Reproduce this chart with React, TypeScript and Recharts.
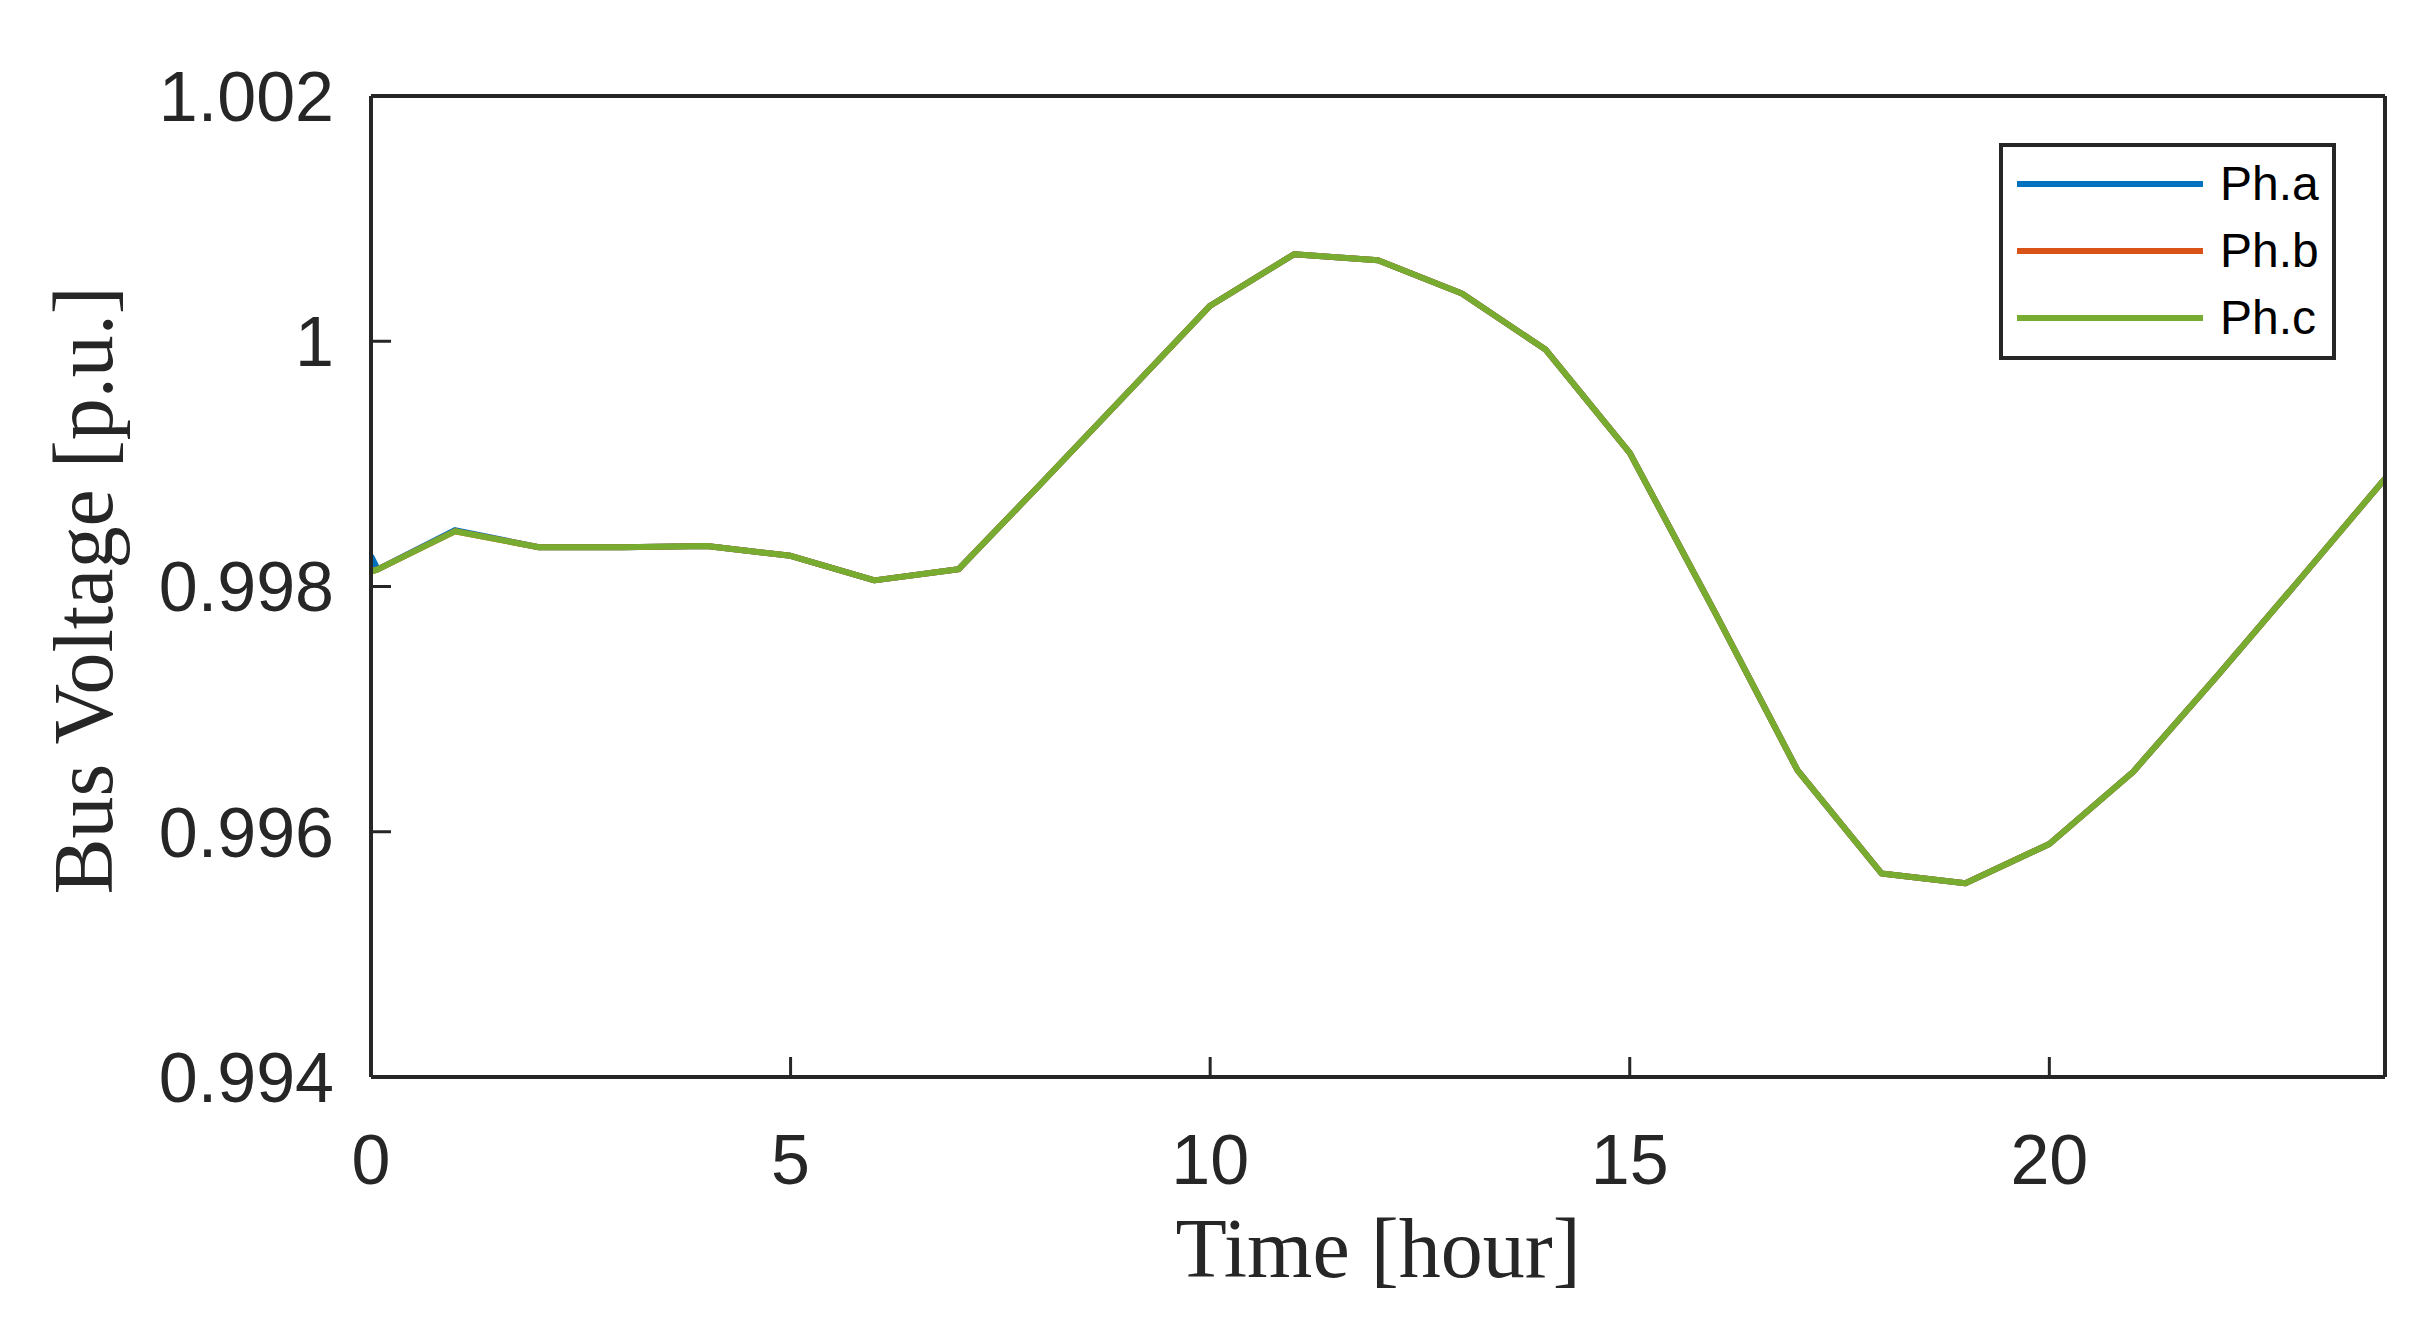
import { LineChart, Line, XAxis, YAxis, Legend } from 'recharts'

// time in hours (the extra 0.08 sample is where Ph.a rejoins the others)
const hours = [0, 0.08, 1, 2, 3, 4, 5, 6, 7, 8, 9, 10, 11, 12, 13, 14, 15, 16, 17, 18, 19, 20, 21, 22, 23, 24]

const phaseC = [
  0.99812, 0.99814, 0.99845, 0.99832, 0.99832, 0.99833, 0.99825, 0.99805, 0.99814, 0.99885, 0.99957, 1.00029, 1.00071,
  1.00066, 1.00039, 0.99993, 0.99909, 0.99781, 0.9965, 0.99566, 0.99558, 0.9959, 0.99649, 0.99727, 0.99807, 0.99888,
]
const phaseB = [...phaseC]
const phaseA = [
  0.99825, 0.99814, 0.99846, 0.99832, 0.99832, 0.99833, 0.99825, 0.99805, 0.99814, 0.99885, 0.99957, 1.00029, 1.00071,
  1.00066, 1.00039, 0.99993, 0.99909, 0.99781, 0.9965, 0.99566, 0.99558, 0.9959, 0.99649, 0.99727, 0.99807, 0.99888,
]

const xTicks = [0, 5, 10, 15, 20]
const yTicks = [0.994, 0.996, 0.998, 1, 1.002]

const data = hours.map((t, i) => ({ t, a: phaseA[i], b: phaseB[i], c: phaseC[i] }))

const axisColor = '#262626'
const sans = '"Liberation Sans", Arial, Helvetica, sans-serif'
const serif = '"Liberation Serif", "Times New Roman", serif'

function PhaseLegend({ payload }: any) {
  return (
    <div style={{ width: 337, height: 217, border: `4px solid ${axisColor}`, background: '#fff', boxSizing: 'border-box', position: 'relative' }}>
      {(payload || []).map((p: any, i: number) => (
        <div key={p.value} style={{ position: 'absolute', left: 14, top: 7 + i * 67, height: 60, display: 'flex', alignItems: 'center' }}>
          <div style={{ width: 186, height: 6, background: p.color }} />
          <span style={{ marginLeft: 17, fontFamily: sans, fontSize: 48, color: '#000', lineHeight: '60px' }}>{p.value}</span>
        </div>
      ))}
    </div>
  )
}

export default function App() {
  return (
    <div style={{ position: 'relative', width: 2436, height: 1344, background: '#fff' }}>
      <style>{'body{margin:0}'}</style>
      <LineChart width={2436} height={1344} data={data} margin={{ top: 0, right: 0, bottom: 0, left: 0 }}>
        <XAxis
          dataKey="t"
          type="number"
          domain={[0, 24]}
          ticks={xTicks}
          allowDataOverflow
          height={267}
          tickSize={-20}
          tickMargin={77}
          axisLine={{ stroke: axisColor, strokeWidth: 4 }}
          tickLine={{ stroke: axisColor, strokeWidth: 3 }}
          tick={{ fontSize: 70, fill: axisColor, fontFamily: sans }}
          label={(props: any) => {
            const vb = props.viewBox || { x: 371, y: 1077, width: 2014, height: 267 }
            return (
              <text x={vb.x + vb.width / 2} y={vb.y + 200} textAnchor="middle" fontFamily={serif} fontSize={84} fill={axisColor}>
                Time [hour]
              </text>
            )
          }}
        />
        <XAxis
          xAxisId="top"
          dataKey="t"
          orientation="top"
          type="number"
          domain={[0, 24]}
          ticks={xTicks}
          allowDataOverflow
          height={96}
          tickSize={-20}
          tick={false}
          axisLine={{ stroke: axisColor, strokeWidth: 4 }}
          tickLine={{ stroke: axisColor, strokeWidth: 3 }}
        />
        <YAxis
          type="number"
          domain={[0.994, 1.002]}
          ticks={yTicks}
          allowDataOverflow
          width={371}
          tickSize={-20}
          tickMargin={57}
          tickFormatter={(v: number) => String(Number(v.toFixed(3)))}
          axisLine={{ stroke: axisColor, strokeWidth: 4 }}
          tickLine={{ stroke: axisColor, strokeWidth: 3 }}
          tick={{ fontSize: 70, fill: axisColor, fontFamily: sans }}
          label={(props: any) => {
            const vb = props.viewBox || { x: 0, y: 96, width: 371, height: 981 }
            const cy = vb.y + vb.height / 2 + 4
            return (
              <text x={112} y={cy} transform={`rotate(-90, 112, ${cy})`} textAnchor="middle" fontFamily={serif} fontSize={84} fill={axisColor}>
                Bus Voltage [p.u.]
              </text>
            )
          }}
        />
        <YAxis
          yAxisId="right"
          orientation="right"
          type="number"
          domain={[0.994, 1.002]}
          ticks={yTicks}
          allowDataOverflow
          width={51}
          tickSize={-20}
          tick={false}
          axisLine={{ stroke: axisColor, strokeWidth: 4 }}
          tickLine={{ stroke: axisColor, strokeWidth: 3 }}
        />
        <Legend
          layout="vertical"
          align="center"
          verticalAlign="middle"
          content={<PhaseLegend />}
          wrapperStyle={{ top: 143, left: 1999, right: 'auto', bottom: 'auto', width: 337, height: 217 }}
        />
        <Line type="linear" dataKey="a" name="Ph.a" stroke="#0072BD" strokeWidth={6} dot={false} isAnimationActive={false} strokeLinejoin="round" />
        <Line type="linear" dataKey="b" name="Ph.b" stroke="#D95319" strokeWidth={6} dot={false} isAnimationActive={false} strokeLinejoin="round" />
        <Line type="linear" dataKey="c" name="Ph.c" stroke="#77AC30" strokeWidth={6} dot={false} isAnimationActive={false} strokeLinejoin="round" />
      </LineChart>
    </div>
  )
}
